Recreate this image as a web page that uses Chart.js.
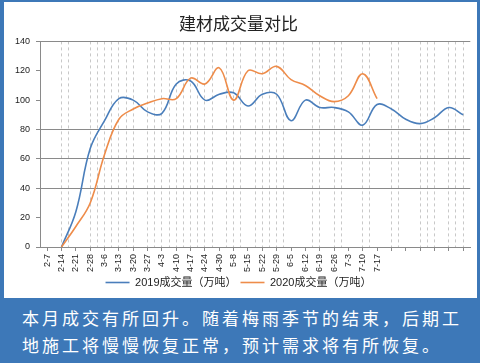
<!DOCTYPE html>
<html>
<head>
<meta charset="utf-8">
<script src="https://cdn.jsdelivr.net/npm/chart.js@4"></script>
<style>
  body { margin: 0; }
  #wrap { position: relative; width: 480px; height: 363px; background: #3d78b8; overflow: hidden; }
  #box { position: absolute; left: 4px; top: 2px; width: 473px; height: 296px; background: #fff; }
  #note { position: absolute; left: 22px; top: 304px; width: 456px; color: #fff;
          font-family: "Noto Sans CJK SC", sans-serif; font-size: 17px; line-height: 27px; letter-spacing: 3px; }
</style>
</head>
<body>
<div id="wrap">
  <div id="box"><canvas id="grafico" width="473" height="296"></canvas></div>
  <div id="note">本月成交有所回升。随着梅雨季节的结束，后期工<br>地施工将慢慢恢复正常，预计需求将有所恢复。</div>
</div>
<script>
var semanas = ['2-7','2-14','2-21','2-28','3-6','3-13','3-20','3-27','4-3','4-10','4-17','4-24','4-30',
  '5-8','5-15','5-22','5-29','6-5','6-12','6-19','6-26','7-3','7-10','7-17','','','','','',''];
var cantidad2019 = [null, 0, 24, 67, 86, 101, 100, 92, 91, 111, 113, 100, 104, 105, 96, 104, 104, 86,
  100, 95, 95, 92, 83, 97, 94, 87, 84, 88, 95, 90];
var cantidad2020 = [null, 0, 14, 30, 63, 87, 94, 98, 101, 101, 115, 111, 122, 100, 120, 118, 123, 114,
  110, 103, 99, 103, 118, 101];
var yTicks = [0, 20, 40, 60, 80, 100, 120, 140];
var lineasY = [40, 60, 80, 140];
// half-week slots that carry a dashed gridline
var lineasX = [3,4,7,8,9,10,11,12,13,15,16,17,18,19,20,21,22,23,24,26,27,28,30,31,32,33,34,
  38,39,41,42,45,46,49,50,53,54,55,57,58,59];

var fuente = "'Liberation Sans', 'Noto Sans CJK SC', sans-serif";
Chart.defaults.font.family = fuente;
Chart.defaults.color = '#222';

var ctx = document.getElementById('grafico').getContext('2d');
var grafico = new Chart(ctx, {
  type: 'line',
  data: {
    labels: semanas,
    datasets: [{
      label: '2019成交量（万吨）',
      data: cantidad2019,
      borderColor: '#4a7ebb',
      borderWidth: 1.6,
      pointRadius: 0,
      tension: 0.4,
      order: 2
    }, {
      label: '2020成交量（万吨）',
      data: cantidad2020,
      borderColor: '#ee8c4a',
      borderWidth: 1.6,
      pointRadius: 0,
      tension: 0.4,
      order: 1
    }]
  },
  options: {
    responsive: false,
    animation: false,
    layout: { padding: { left: 0, right: 4, top: 0, bottom: 0 } },
    scales: {
      x: {
        offset: true,
        grid: { drawOnChartArea: false, tickLength: 4, tickColor: '#8a8a8a' },
        border: { color: '#8a8a8a' },
        ticks: { autoSkip: false, minRotation: 90, maxRotation: 90, padding: 3,
                 font: { size: 9 }, color: '#222' },
        afterFit: function(s) { s.height = 26; }
      },
      xg: {
        type: 'linear', position: 'bottom', min: 0, max: 60,
        grid: {
          color: function(c) { return lineasX.indexOf(c.tick.value) >= 0 ? '#c8c8c8' : 'rgba(0,0,0,0)'; },
          drawTicks: false
        },
        border: { display: false, dash: [3, 3] },
        ticks: { display: false, stepSize: 1, maxTicksLimit: 100 },
        afterFit: function(s) { s.height = 0; }
      },
      y: {
        min: 0, max: 140,
        afterBuildTicks: function(s) { s.ticks = yTicks.map(function(v) { return { value: v }; }); },
        grid: {
          color: function(c) { return lineasY.indexOf(c.tick.value) >= 0 ? '#8a8a8a' : 'rgba(0,0,0,0)'; },
          tickColor: '#8a8a8a', tickLength: 4
        },
        border: { color: '#8a8a8a' },
        ticks: { padding: 6, font: { size: 9 }, color: '#222' },
        afterFit: function(s) { s.width = 36; }
      }
    },
    plugins: {
      title: {
        display: true,
        text: '建材成交量对比',
        font: { size: 17, weight: 'normal', family: "'Noto Sans CJK SC', sans-serif" },
        color: '#222',
        padding: { top: 11, bottom: 8 }
      },
      legend: {
        position: 'bottom',
        labels: {
          usePointStyle: true,
          pointStyle: 'line',
          pointStyleWidth: 24,
          boxHeight: 11,
          padding: 4,
          font: { size: 11 },
          color: '#222',
          sort: function(a, b) { return a.datasetIndex - b.datasetIndex; }
        }
      },
      tooltip: { enabled: false }
    }
  }
});
</script>
</body>
</html>
